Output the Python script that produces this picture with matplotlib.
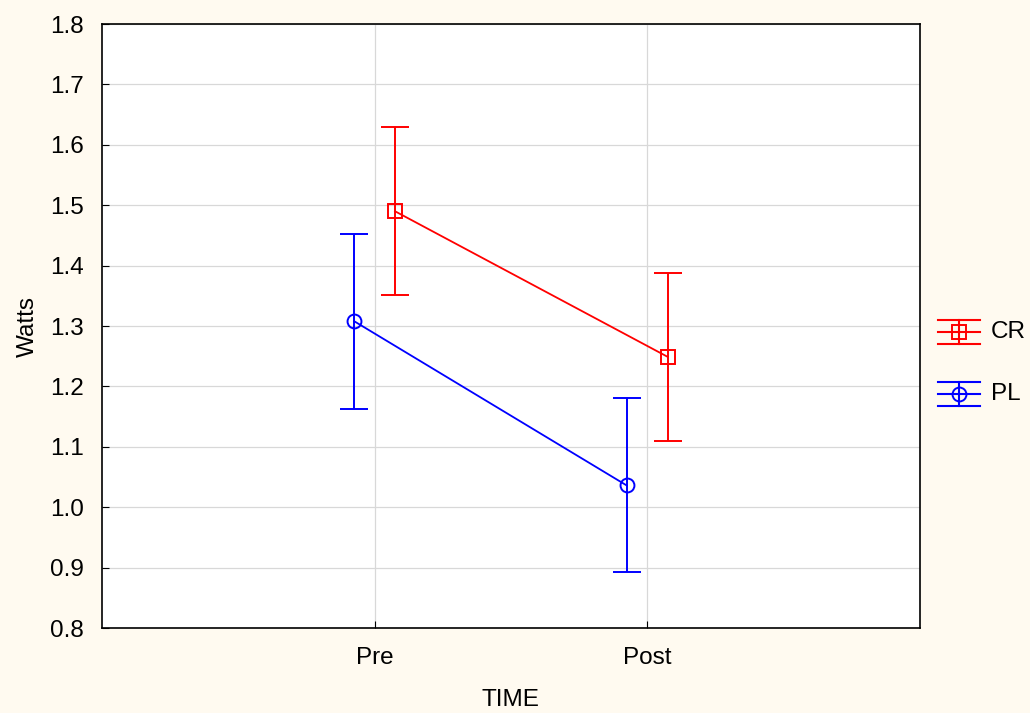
import matplotlib
matplotlib.use('Agg')
import matplotlib.pyplot as plt
from matplotlib.lines import Line2D

plt.rcParams['font.family'] = ['Liberation Sans', 'DejaVu Sans']

# data
times = ['Pre', 'Post']
cr_mean = [1.490, 1.249]
cr_err = [0.139, 0.139]
pl_mean = [1.308, 1.036]
pl_err = [0.145, 0.144]
groups = ['CR', 'PL']

bg = '#fffaf0'
fig = plt.figure(figsize=(10.30, 7.13), dpi=100, facecolor=bg)
ax = fig.add_axes([0.099, 0.1192, 0.794, 0.8471])
ax.set_facecolor('white')

x = [1, 2]
off = 0.075
ax.errorbar([v + off for v in x], cr_mean, yerr=cr_err, color='red', marker='s',
            markersize=10, markerfacecolor='none', markeredgewidth=1.4, lw=1.3,
            capsize=10, capthick=1.3, elinewidth=1.4, zorder=3)
ax.errorbar([v - off for v in x], pl_mean, yerr=pl_err, color='blue', marker='o',
            markersize=10, markerfacecolor='none', markeredgewidth=1.4, lw=1.3,
            capsize=10, capthick=1.3, elinewidth=1.4, zorder=3)

ax.set_xlim(0, 3)
ax.set_ylim(0.8, 1.8)
ax.set_xticks(x)
ax.set_xticklabels(times)
ax.set_yticks([0.8 + 0.1 * i for i in range(11)])
ax.set_yticklabels(['%.1f' % (0.8 + 0.1 * i) for i in range(11)])
ax.tick_params(direction='in', labelsize=17.5, length=5)
ax.tick_params(axis='x', pad=14)
ax.tick_params(axis='y', pad=13)
ax.grid(True, color='#d8d8d8', lw=0.9)
ax.set_axisbelow(True)
for s in ax.spines.values():
    s.set_linewidth(1.2)

ax.set_xlabel('TIME', fontsize=17.5, labelpad=14)
ax.set_ylabel('Watts', fontsize=17.5, labelpad=8)

# legend drawn as errorbar glyphs to the right of the axes
colors = ['red', 'blue']
markers = ['s', 'o']
leg_y = [332, 394]
for g, c, m, yy in zip(groups, colors, markers, leg_y):
    yc = 1 - yy / 713
    x0, x1 = 938 / 1030, 980 / 1030
    xm = (x0 + x1) / 2
    dy = 12 / 713
    for d in (-dy, 0, dy):
        fig.add_artist(Line2D([x0, x1], [yc + d, yc + d], color=c, lw=1.5))
    fig.add_artist(Line2D([xm, xm], [yc - dy, yc + dy], color=c, lw=1.5))
    fig.add_artist(Line2D([xm], [yc], color=c, marker=m, markersize=10,
                          markerfacecolor='none', markeredgewidth=1.4))
    fig.text(991 / 1030, yc, g, fontsize=17.5, va='center', ha='left')

fig.savefig('out.png', dpi=100, facecolor=bg)
